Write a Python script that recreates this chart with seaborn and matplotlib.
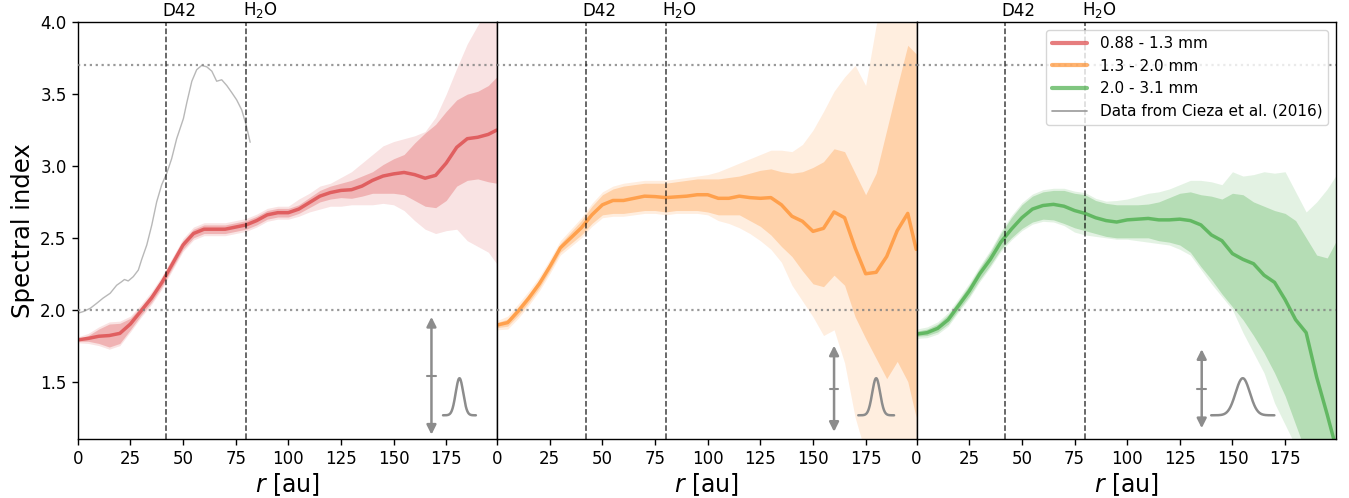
import numpy as np
import pandas as pd
import matplotlib
matplotlib.use("Agg")
import matplotlib.pyplot as plt
import seaborn as sns
from matplotlib.lines import Line2D
from matplotlib.transforms import blended_transform_factory

sns.set_style("ticks")
plt.rcParams["font.family"] = ["DejaVu Sans"]
for key in ["text.color", "axes.labelcolor", "xtick.color", "ytick.color",
            "axes.edgecolor"]:
    plt.rcParams[key] = "black"

# ---------------------------------------------------------------- data
radius = [0, 5, 10, 15, 20, 25, 30, 35, 40, 45, 50, 55, 60, 65, 70, 75, 80, 85,
          90, 95, 100, 105, 110, 115, 120, 125, 130, 135, 140, 145, 150, 155,
          160, 165, 170, 175, 180, 185, 190, 195, 199]

band_labels = ["0.88 - 1.3 mm", "1.3 - 2.0 mm", "2.0 - 3.1 mm"]
band_colors = ["tab:red", "tab:orange", "tab:green"]

# 0.88 - 1.3 mm
alpha_a = [1.79, 1.80, 1.815, 1.82, 1.835, 1.90, 1.99, 2.08, 2.19, 2.32, 2.45,
           2.53, 2.56, 2.56, 2.56, 2.575, 2.59, 2.62, 2.66, 2.675, 2.675, 2.70,
           2.745, 2.79, 2.815, 2.83, 2.835, 2.86, 2.90, 2.93, 2.945, 2.955,
           2.94, 2.915, 2.935, 3.02, 3.13, 3.19, 3.20, 3.22, 3.25]
inner_hi_a = [1.80, 1.82, 1.865, 1.90, 1.905, 1.94, 2.02, 2.11, 2.22, 2.35,
              2.48, 2.56, 2.59, 2.59, 2.59, 2.605, 2.62, 2.65, 2.69, 2.705,
              2.705, 2.73, 2.78, 2.83, 2.86, 2.88, 2.90, 2.93, 2.96, 3.01,
              3.05, 3.08, 3.16, 3.23, 3.29, 3.38, 3.46, 3.50, 3.52, 3.56, 3.62]
inner_lo_a = [1.78, 1.78, 1.765, 1.74, 1.765, 1.86, 1.96, 2.05, 2.16, 2.29,
              2.42, 2.50, 2.53, 2.53, 2.53, 2.545, 2.56, 2.59, 2.63, 2.645,
              2.645, 2.67, 2.71, 2.75, 2.77, 2.78, 2.775, 2.79, 2.81, 2.81,
              2.81, 2.80, 2.76, 2.72, 2.71, 2.76, 2.86, 2.90, 2.91, 2.89, 2.88]
outer_hi_a = [1.81, 1.835, 1.88, 1.915, 1.92, 1.955, 2.035, 2.125, 2.235,
              2.365, 2.495, 2.575, 2.605, 2.605, 2.605, 2.62, 2.635, 2.665,
              2.705, 2.72, 2.72, 2.77, 2.81, 2.86, 2.88, 2.92, 2.96, 3.02,
              3.08, 3.14, 3.17, 3.19, 3.21, 3.24, 3.34, 3.50, 3.68, 3.85, 3.98,
              4.10, 4.20]
outer_lo_a = [1.77, 1.765, 1.75, 1.725, 1.75, 1.845, 1.945, 2.035, 2.145,
              2.275, 2.405, 2.485, 2.515, 2.515, 2.515, 2.53, 2.545, 2.575,
              2.615, 2.63, 2.63, 2.65, 2.68, 2.70, 2.72, 2.72, 2.73, 2.73,
              2.73, 2.74, 2.73, 2.69, 2.62, 2.56, 2.53, 2.55, 2.56, 2.48, 2.44,
              2.40, 2.32]

# 1.3 - 2.0 mm
alpha_b = [1.893, 1.91, 1.99, 2.08, 2.18, 2.30, 2.43, 2.50, 2.57, 2.66, 2.73,
           2.76, 2.76, 2.775, 2.79, 2.787, 2.78, 2.785, 2.79, 2.80, 2.80,
           2.775, 2.775, 2.79, 2.78, 2.775, 2.78, 2.73, 2.65, 2.615, 2.545,
           2.566, 2.68, 2.64, 2.43, 2.25, 2.26, 2.37, 2.55, 2.67, 2.42]
inner_hi_b = [1.91, 1.935, 2.02, 2.11, 2.21, 2.33, 2.46, 2.54, 2.62, 2.72,
              2.80, 2.84, 2.86, 2.87, 2.88, 2.88, 2.88, 2.89, 2.90, 2.91, 2.91,
              2.91, 2.92, 2.93, 2.95, 2.97, 2.98, 2.96, 2.95, 2.96, 2.99, 3.03,
              3.12, 3.10, 2.95, 2.80, 2.95, 3.25, 3.55, 3.84, 3.78]
inner_lo_b = [1.875, 1.885, 1.96, 2.05, 2.15, 2.27, 2.40, 2.46, 2.52, 2.60,
              2.66, 2.67, 2.67, 2.68, 2.69, 2.69, 2.68, 2.69, 2.69, 2.69, 2.68,
              2.66, 2.66, 2.66, 2.62, 2.58, 2.52, 2.44, 2.37, 2.27, 2.18, 2.16,
              2.24, 2.17, 1.95, 1.80, 1.66, 1.52, 1.64, 1.50, 1.25]
outer_hi_b = [1.925, 1.955, 2.04, 2.13, 2.23, 2.35, 2.48, 2.56, 2.64, 2.74,
              2.82, 2.86, 2.88, 2.89, 2.90, 2.90, 2.90, 2.91, 2.92, 2.93, 2.94,
              2.96, 2.99, 3.02, 3.05, 3.08, 3.11, 3.11, 3.10, 3.15, 3.25, 3.38,
              3.52, 3.62, 3.70, 3.56, 3.98, 4.30, 4.30, 4.30, 4.30]
outer_lo_b = [1.86, 1.865, 1.94, 2.03, 2.13, 2.25, 2.38, 2.44, 2.50, 2.58,
              2.64, 2.65, 2.65, 2.66, 2.67, 2.67, 2.66, 2.67, 2.67, 2.67, 2.66,
              2.62, 2.60, 2.57, 2.53, 2.48, 2.42, 2.33, 2.17, 2.06, 1.95, 1.82,
              1.86, 1.63, 1.25, 1.00, 1.00, 1.00, 1.00, 1.00, 1.00]

# 2.0 - 3.1 mm
alpha_c = [1.83, 1.84, 1.87, 1.93, 2.03, 2.13, 2.25, 2.35, 2.47, 2.56, 2.64,
           2.70, 2.725, 2.733, 2.72, 2.69, 2.67, 2.64, 2.62, 2.61, 2.625,
           2.63, 2.635, 2.625, 2.625, 2.63, 2.62, 2.59, 2.52, 2.48, 2.39,
           2.35, 2.32, 2.24, 2.19, 2.07, 1.93, 1.84, 1.53, 1.27, 1.05]
inner_hi_c = [1.85, 1.865, 1.90, 1.965, 2.065, 2.17, 2.29, 2.40, 2.53, 2.64,
              2.73, 2.79, 2.82, 2.83, 2.83, 2.81, 2.80, 2.76, 2.74, 2.73, 2.73,
              2.73, 2.735, 2.75, 2.78, 2.81, 2.82, 2.80, 2.79, 2.77, 2.81, 2.80,
              2.75, 2.72, 2.69, 2.67, 2.62, 2.50, 2.38, 2.36, 2.47]
inner_lo_c = [1.815, 1.82, 1.845, 1.90, 2.00, 2.095, 2.21, 2.31, 2.42, 2.50,
              2.565, 2.61, 2.63, 2.625, 2.60, 2.57, 2.55, 2.53, 2.51, 2.50,
              2.50, 2.50, 2.50, 2.48, 2.47, 2.45, 2.40, 2.30, 2.21, 2.11, 2.02,
              1.93, 1.82, 1.70, 1.56, 1.40, 1.20, 1.00, 1.00, 1.00, 1.00]
outer_hi_c = [1.865, 1.88, 1.915, 1.98, 2.08, 2.185, 2.305, 2.415, 2.545,
              2.655, 2.745, 2.805, 2.835, 2.845, 2.845, 2.825, 2.815, 2.775,
              2.755, 2.76, 2.77, 2.79, 2.81, 2.82, 2.84, 2.87, 2.90, 2.90, 2.89,
              2.87, 2.96, 2.93, 2.94, 2.96, 2.95, 2.96, 2.82, 2.68, 2.75, 2.84,
              2.93]
outer_lo_c = [1.80, 1.805, 1.83, 1.885, 1.985, 2.08, 2.195, 2.295, 2.405,
              2.485, 2.55, 2.595, 2.615, 2.61, 2.585, 2.54, 2.52, 2.51, 2.50,
              2.49, 2.49, 2.48, 2.47, 2.46, 2.45, 2.42, 2.38, 2.28, 2.18, 2.09,
              2.00, 1.84, 1.70, 1.56, 1.35, 1.20, 1.05, 1.00, 1.00, 1.00, 1.00]

# Cieza et al. (2016) profile
cieza_r = [0, 2.7, 6, 9, 12, 15.4, 18.5, 20.9, 22.2, 24, 26.4, 28.8, 30.4,
           32.8, 35.2, 37.5, 39.9, 42.3, 44.6, 47, 50.2, 51.8, 54.2, 56.5,
           58.9, 61.3, 63.7, 66, 68.4, 70.8, 73.2, 75.5, 77.9, 80, 81.9]
cieza_alpha = [1.975, 1.987, 2.01, 2.044, 2.08, 2.114, 2.17, 2.195, 2.21,
               2.20, 2.23, 2.276, 2.35, 2.45, 2.59, 2.75, 2.87, 2.95, 3.05,
               3.19, 3.33, 3.44, 3.59, 3.67, 3.70, 3.69, 3.66, 3.59, 3.60,
               3.56, 3.51, 3.46, 3.39, 3.285, 3.165]

# snow-line / feature markers
feature_r = [42, 80]
feature_labels = ["D42", "H$_2$O"]
ref_levels = [2.0, 3.7]

# calibration error bars and beam sizes per band
err_r = [168, 160, 135.4]
err_center = [1.54, 1.45, 1.45]
err_half = [0.41, 0.30, 0.275]
beam_r = [181.3, 180.0, 154.9]
beam_fwhm = [4.2, 4.4, 8.0]
beam_halfspan = [7.8, 8.5, 15.0]

r_ticks = [0, 25, 50, 75, 100, 125, 150, 175]
y_ticks = [1.5, 2.0, 2.5, 3.0, 3.5, 4.0]

profiles = [
    (alpha_a, inner_lo_a, inner_hi_a, outer_lo_a, outer_hi_a),
    (alpha_b, inner_lo_b, inner_hi_b, outer_lo_b, outer_hi_b),
    (alpha_c, inner_lo_c, inner_hi_c, outer_lo_c, outer_hi_c),
]

# ---------------------------------------------------------------- figure
fig = plt.figure(figsize=(13.49, 4.98), dpi=100)
axes = fig.subplots(1, 3, sharey=True, gridspec_kw=dict(wspace=0))
fig.subplots_adjust(left=0.0576, right=0.9904, bottom=0.1185, top=0.9552)

GRAY = "#8c8c8c"

for i, ax in enumerate(axes):
    line, ilo, ihi, olo, ohi = profiles[i]
    col = band_colors[i]
    df = pd.DataFrame({"r": radius, "alpha": line})

    ax.fill_between(radius, olo, ohi, color=col, alpha=0.13, lw=0, zorder=1)
    ax.fill_between(radius, ilo, ihi, color=col, alpha=0.25, lw=0, zorder=1)
    sns.lineplot(data=df, x="r", y="alpha", ax=ax, color=col, alpha=0.6,
                 lw=2.5, zorder=2, legend=False)

    if i == 0:
        cz = pd.DataFrame({"r": cieza_r, "alpha": cieza_alpha})
        sns.lineplot(data=cz, x="r", y="alpha", ax=ax, color="0.72", lw=1.0,
                     zorder=2, legend=False)

    for lvl in ref_levels:
        ax.axhline(lvl, color="gray", ls=":", lw=1.6, alpha=0.8, zorder=3)

    trans = blended_transform_factory(ax.transData, ax.transAxes)
    for fr, fl in zip(feature_r, feature_labels):
        ax.axvline(fr, color="k", ls="--", lw=1.1, alpha=0.75, zorder=3)
        ax.text(fr - 1.6, 1.005, fl, transform=trans, ha="left", va="bottom",
                fontsize=12)

    # calibration uncertainty arrow
    ec, eh, er = err_center[i], err_half[i], err_r[i]
    ax.annotate("", xy=(er, ec + eh), xytext=(er, ec - eh),
                arrowprops=dict(arrowstyle="<|-|>", color=GRAY, lw=1.8,
                                mutation_scale=14, shrinkA=0, shrinkB=0),
                zorder=4)
    ax.plot([er - 2.1, er + 2.1], [ec, ec], color=GRAY, lw=1.5, zorder=4)

    # beam profile
    sig = beam_fwhm[i] / 2.3548
    gx = np.linspace(beam_r[i] - beam_halfspan[i], beam_r[i] + beam_halfspan[i], 200)
    gy = 1.265 + 0.258 * np.exp(-0.5 * ((gx - beam_r[i]) / sig) ** 2)
    ax.plot(gx, gy, color=GRAY, lw=1.8, zorder=4)

    ax.set_xlim(0, 199.2)
    ax.set_ylim(1.1, 4.0)
    ax.set_xticks(r_ticks)
    ax.set_xticklabels([str(t) for t in r_ticks])
    ax.set_xlabel("$r$ [au]", fontsize=17, labelpad=2)
    ax.set_ylabel("")
    ax.tick_params(axis="both", labelsize=12, length=4.5, width=1, color="k",
                   labelcolor="k")
    for sp in ax.spines.values():
        sp.set_visible(True)
        sp.set_color("k")
        sp.set_linewidth(1.0)
    if i > 0:
        ax.tick_params(axis="y", left=False, labelleft=False)

axes[0].set_yticks(y_ticks)
axes[0].set_yticklabels([f"{t:.1f}" for t in y_ticks])
axes[0].set_ylabel("Spectral index", fontsize=17.5)

handles = [Line2D([], [], color=c, alpha=0.6, lw=3) for c in band_colors]
handles.append(Line2D([], [], color="0.6", lw=1.2))
labels = band_labels + ["Data from Cieza et al. (2016)"]
axes[2].legend(handles, labels, loc="upper right", fontsize=11,
               handlelength=2.3, framealpha=0.8)

fig.savefig("out.png", dpi=100)
